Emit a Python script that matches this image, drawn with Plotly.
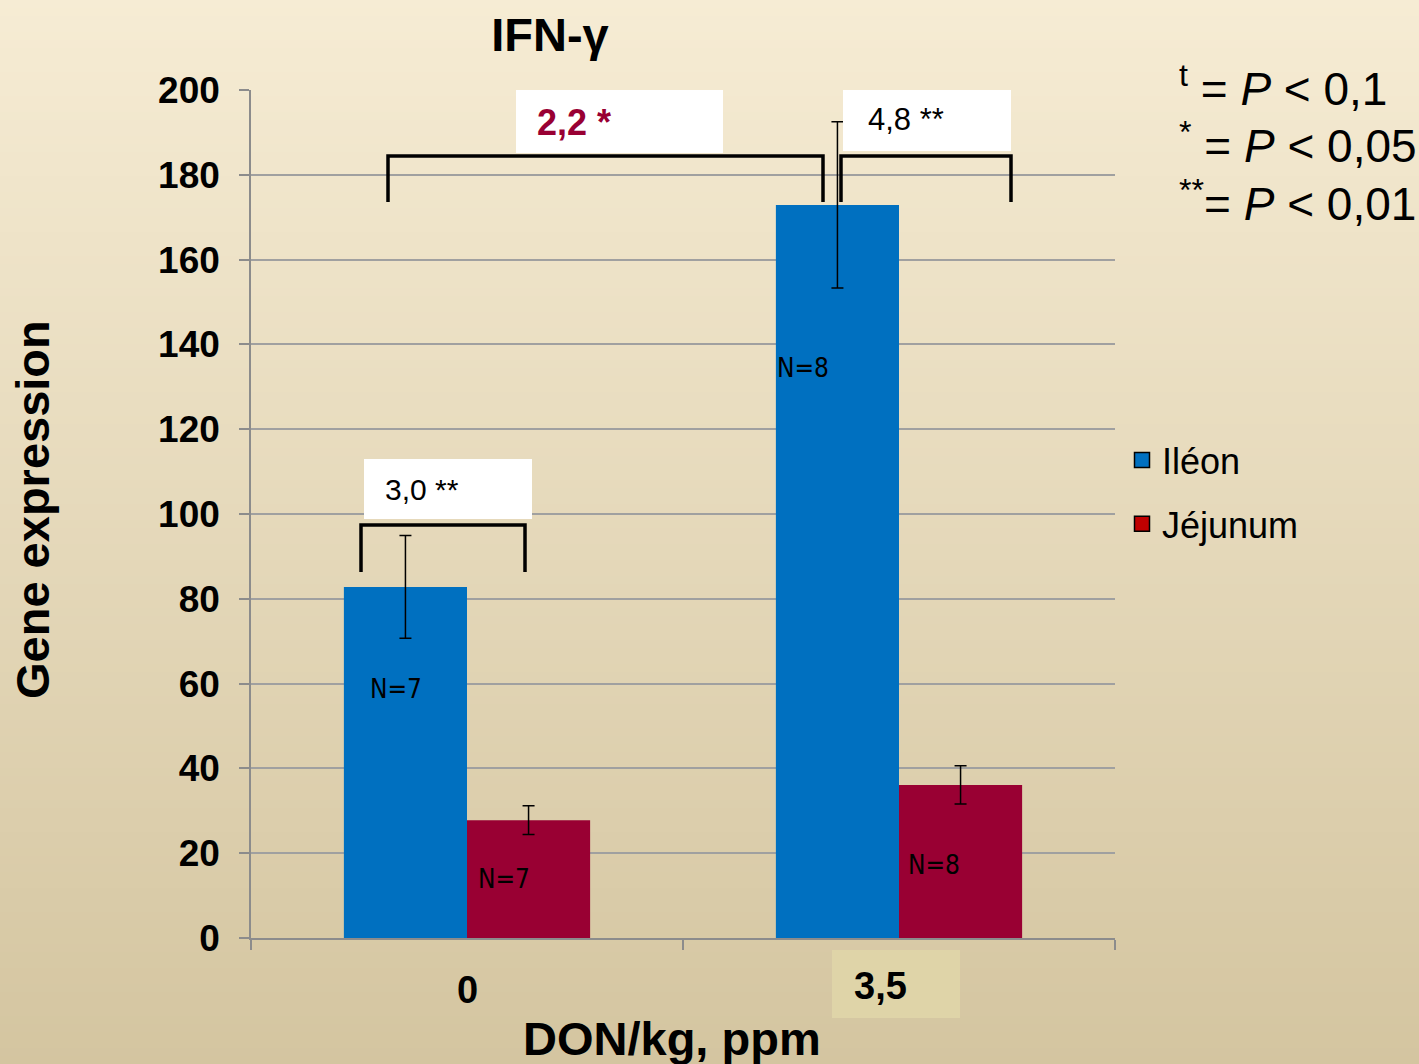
import plotly.graph_objects as go

# ---- data ----
categories = ["0", "3,5"]
ileon = [82.8, 172.9]
ileon_err = [12.1, 19.6]
jejunum = [27.8, 36.1]
jejunum_err = [3.4, 4.5]
n_ileon = ["N=7", "N=8"]
n_jejunum = ["N=7", "N=8"]
y_ticks = [0, 20, 40, 60, 80, 100, 120, 140, 160, 180, 200]
series_names = ["Iléon", "Jéjunum"]

FONT = "Arial, Liberation Sans, sans-serif"
NARROW = "Liberation Sans Narrow, Arial Narrow, DejaVu Sans Condensed, sans-serif"

W, H = 1419, 1064
L, R, T, B = 251, 1115, 90, 938
PW, PH = R - L, B - T


def px(x):
    return (x - L) / PW


def py(y):
    return (B - y) / PH


fig = go.Figure()
fig.add_trace(go.Bar(x=categories, y=ileon, name=series_names[0], showlegend=False,
                     marker=dict(color="#0070C0", line=dict(width=0)),
                     error_y=dict(type="data", array=ileon_err, color="black", thickness=1.5, width=6)))
fig.add_trace(go.Bar(x=categories, y=jejunum, name=series_names[1], showlegend=False,
                     marker=dict(color="#990033", line=dict(width=0)),
                     error_y=dict(type="data", array=jejunum_err, color="black", thickness=1.5, width=6)))
# legend entries
for nm, col, grp in [(series_names[0], "#0070C0", "a"), (series_names[1], "#C00000", "b")]:
    fig.add_trace(go.Scatter(x=[None], y=[None], mode="markers", name=nm, legendgroup=grp,
                             marker=dict(symbol="square", size=15, color=col,
                                         line=dict(color="black", width=1.5))))

shapes = []
# background gradient
top = (0xF6, 0xEC, 0xD4)
bot = (0xD4, 0xC5, 0xA0)
nb = 133
for i in range(nb):
    y0 = i * H / nb
    y1 = (i + 1) * H / nb + 1
    t = (i + 0.5) / nb
    c = tuple(round(top[k] + (bot[k] - top[k]) * t) for k in range(3))
    shapes.append(dict(type="rect", xref="paper", yref="paper", layer="below",
                       x0=px(-5), x1=px(W + 5), y0=py(y1), y1=py(y0),
                       fillcolor="rgb(%d,%d,%d)" % c, line=dict(width=0)))
# box behind "3,5"
shapes.append(dict(type="rect", xref="paper", yref="paper", layer="below",
                   x0=px(832), x1=px(960), y0=py(1018), y1=py(950),
                   fillcolor="#DFD4A8", line=dict(width=0)))

# white label boxes
for (x0, x1, y0, y1) in [(364, 532, 459, 519), (516, 723, 90, 153), (843, 1011, 90, 151)]:
    shapes.append(dict(type="rect", xref="paper", yref="paper", layer="above",
                       x0=px(x0), x1=px(x1), y0=py(y1), y1=py(y0),
                       fillcolor="white", line=dict(width=0)))

# brackets
def bracket(xa, xb, ytop, ybot):
    return dict(type="path", xref="paper", yref="paper", layer="above",
                path="M %f %f L %f %f L %f %f L %f %f" % (px(xa), py(ybot), px(xa), py(ytop),
                                                         px(xb), py(ytop), px(xb), py(ybot)),
                line=dict(color="black", width=3.5))

shapes.append(bracket(361, 525, 525, 572))
shapes.append(bracket(388, 823, 156, 202))
shapes.append(bracket(841, 1011, 156, 202))

ann = []
ann.append(dict(xref="paper", yref="paper", x=px(383), y=py(489), xanchor="left", yanchor="middle",
                text="3,0 **", showarrow=False, font=dict(family=FONT, size=30, color="black")))
ann.append(dict(xref="paper", yref="paper", x=px(535), y=py(122), xanchor="left", yanchor="middle",
                text="2,2 *", showarrow=False,
                font=dict(family=FONT, size=36, color="#990033", weight="bold")))
ann.append(dict(xref="paper", yref="paper", x=px(866), y=py(120), xanchor="left", yanchor="middle",
                text="4,8 **", showarrow=False, font=dict(family=FONT, size=31, color="black")))

# N labels
for lab, xp, yp in [(n_ileon[0], 396, 689), (n_jejunum[0], 504, 879),
                    (n_ileon[1], 803, 368), (n_jejunum[1], 934, 865)]:
    ann.append(dict(xref="paper", yref="paper", x=px(xp), y=py(yp), xanchor="center", yanchor="middle",
                    text=lab, showarrow=False, font=dict(family=NARROW, size=26, color="black")))

# x category labels
ann.append(dict(xref="paper", yref="paper", x=px(467), y=py(990), xanchor="center", yanchor="middle",
                text=categories[0], showarrow=False,
                font=dict(family=FONT, size=38, color="black", weight="bold")))
ann.append(dict(xref="paper", yref="paper", x=px(880), y=py(986), xanchor="center", yanchor="middle",
                text=categories[1], showarrow=False,
                font=dict(family=FONT, size=38, color="black", weight="bold")))

# axis titles
ann.append(dict(xref="paper", yref="paper", x=px(672), y=py(1038), xanchor="center", yanchor="middle",
                text="DON/kg, ppm", showarrow=False,
                font=dict(family=FONT, size=47, color="black", weight="bold")))
ann.append(dict(xref="paper", yref="paper", x=px(33), y=py(510), xanchor="center", yanchor="middle",
                textangle=-90, text="Gene expression", showarrow=False,
                font=dict(family=FONT, size=47, color="black", weight="bold")))

# significance key
for txt, yp in [("<sup>t</sup> = <i>P</i> &lt; 0,1", 86),
                ("<sup>*</sup> = <i>P</i> &lt; 0,05", 143),
                ("<sup>**</sup>= <i>P</i> &lt; 0,01", 201)]:
    ann.append(dict(xref="paper", yref="paper", x=px(1177), y=py(yp), xanchor="left", yanchor="middle",
                    text=txt, showarrow=False, font=dict(family=FONT, size=46, color="black")))

fig.update_layout(
    width=W, height=H,
    margin=dict(l=L, r=W - R, t=T, b=H - B),
    paper_bgcolor="#EDE3C9",
    plot_bgcolor="rgba(0,0,0,0)",
    barmode="group", bargap=0.43, bargroupgap=0,
    title=dict(text="IFN-γ", x=550 / W, xref="container", xanchor="center",
               y=1 - 35 / H, yref="container", yanchor="middle",
               font=dict(family=FONT, size=47, color="black", weight="bold")),
    shapes=shapes, annotations=ann,
    legend=dict(x=px(1122), xanchor="left", y=py(492), yanchor="middle",
                bgcolor="rgba(0,0,0,0)", font=dict(family=FONT, size=36, color="black"),
                tracegroupgap=14, itemwidth=30),
    xaxis=dict(type="category", showticklabels=False, ticks="outside", tickson="boundaries",
               ticklen=10, tickcolor="#8C8C8C", tickwidth=1.5,
               showline=True, linecolor="#8C8C8C", linewidth=1.5, showgrid=False, zeroline=False,
               range=[-0.5, 1.5]),
    yaxis=dict(range=[0, 200], tickvals=y_ticks, ticks="outside", ticklen=10,
               tickcolor="#8C8C8C", tickwidth=1.5, showline=True, linecolor="#8C8C8C", linewidth=1.5,
               showgrid=True, gridcolor="#A0A0A0", gridwidth=1.5, zeroline=False,
               tickfont=dict(family=FONT, size=37, color="black", weight="bold"),
               ticklabelstandoff=12),
)

fig.write_html("out.html", config={"displayModeBar": False},
               post_script="document.body.style.margin='0px';document.body.style.padding='0px';")
